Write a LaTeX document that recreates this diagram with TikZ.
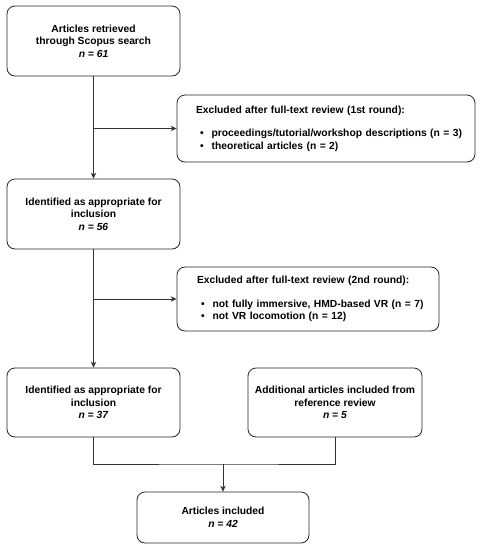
\documentclass[tikz,border=0pt]{standalone}
\usepackage{fontspec}
\setmainfont{Liberation Sans}
\usetikzlibrary{arrows.meta}
\begin{document}
\begin{tikzpicture}[x=1pt,y=-1pt,
  font=\fontsize{10.3}{12.5}\selectfont\bfseries,
  box/.style={draw=black!85, line width=0.8pt, rounded corners=8pt, align=center, inner sep=2pt},
  mainbox/.style={box, minimum width=173pt, minimum height=70pt},
  exbox/.style={box, align=left, inner xsep=0pt},
  conn/.style={draw=black!80, line width=0.8pt},
  arr/.style={conn, -{Stealth[length=6pt,width=5.5pt]}}
]
\useasboundingbox (0,0) rectangle (480,550);
\node[mainbox] (b1) at (93.5,41) {Articles retrieved\\through Scopus search\\\textit{n = 61}};
\node[mainbox] (b2) at (93.5,214) {Identified as appropriate for\\inclusion\\\textit{n = 56}};
\node[mainbox, minimum height=69pt] (b3) at (93.5,402.5) {Identified as appropriate for\\inclusion\\\textit{n = 37}};
\node[mainbox, minimum width=174pt, minimum height=69pt] (b4) at (335,402.5) {Additional articles included from\\reference review\\\textit{n = 5}};
\node[mainbox, minimum width=172pt, minimum height=51pt] (b5) at (223,517.5) {Articles included\\\textit{n = 42}};
\node[exbox, minimum width=298pt, minimum height=67pt, text width=290pt] (e1) at (326,128.5)
  {\hspace*{15pt}Excluded after full-text review (1st round):\\[11pt]
   \hspace*{19pt}\textbullet\hspace{8pt}proceedings/tutorial/workshop descriptions (n = 3)\\
   \hspace*{19pt}\textbullet\hspace{8pt}theoretical articles (n = 2)};
\node[exbox, minimum width=262pt, minimum height=64pt, text width=250pt] (e2) at (308,299)
  {\hspace*{14pt}Excluded after full-text review (2nd round):\\[11pt]
   \hspace*{18pt}\textbullet\hspace{8pt}not fully immersive, HMD-based VR (n = 7)\\
   \hspace*{18pt}\textbullet\hspace{8pt}not VR locomotion (n = 12)};
\draw[arr] (b1) -- (b2);
\draw[arr] (b1.south |- e1.west) -- (e1.west);
\draw[arr] (b2) -- (b3);
\draw[arr] (b2.south |- e2.west) -- (e2.west);
\coordinate (m) at (223,464);
\draw[conn] (b3.south) |- (m) -| (b4.south);
\draw[arr] (m) -- (b5.north);
\end{tikzpicture}
\end{document}
